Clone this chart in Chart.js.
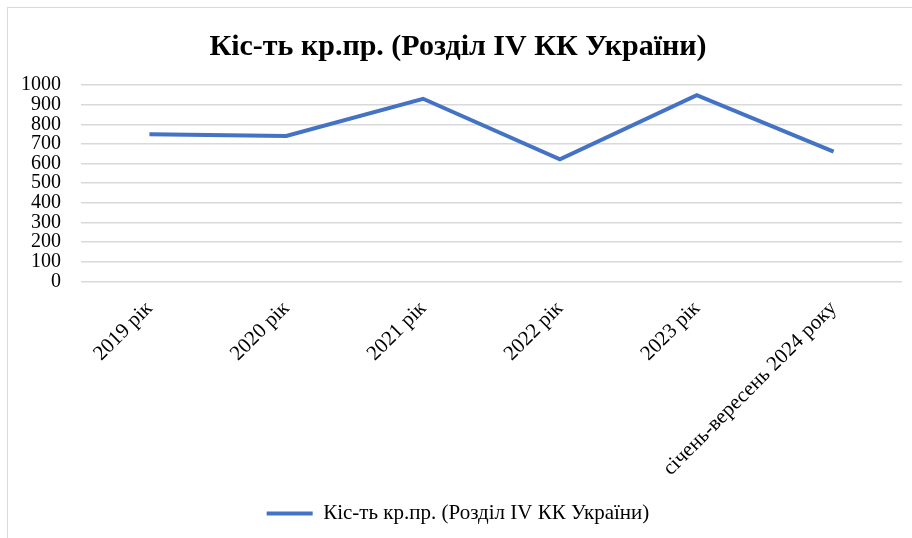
<!DOCTYPE html>
<html>
<head>
<meta charset="utf-8">
<script src="https://cdn.jsdelivr.net/npm/chart.js@4/dist/chart.umd.min.js"></script>
<style>
    html, body { margin: 0; padding: 0; background: #ffffff; }
    #wrap { position: relative; width: 912px; height: 538px; overflow: hidden; }
    #frame {
        position: absolute; left: 7px; top: 7px; width: 960px; height: 600px;
        border: 1px solid #d9d9d9; box-sizing: border-box;
    }
    canvas { position: absolute; left: 0; top: 0; }
</style>
</head>
<body>
<div id="wrap">
    <div id="frame"></div>
    <canvas id="chart" width="912" height="538"></canvas>
</div>
<script>
    // дані з графіка
    const categories = ["2019 рік", "2020 рік", "2021 рік", "2022 рік", "2023 рік", "січень-вересень 2024 року"];
    const crimeCounts = [749, 740, 930, 621, 948, 661];
    const yTicks = [0, 100, 200, 300, 400, 500, 600, 700, 800, 900, 1000];

    const seriesName = "Кіс-ть кр.пр. (Розділ IV КК України)";
    const serif = "'Liberation Serif', 'Times New Roman', serif";

    new Chart(document.getElementById("chart").getContext("2d"), {
        type: "line",
        data: {
            labels: categories,
            datasets: [
                {
                    label: seriesName,
                    data: crimeCounts,
                    borderColor: "#4472c4",
                    backgroundColor: "#4472c4",
                    borderWidth: 4,
                    tension: 0,
                    pointRadius: 0,
                    fill: false
                }
            ]
        },
        options: {
            responsive: false,
            animation: false,
            layout: {
                padding: { left: 14, right: 10, top: 12, bottom: 4 }
            },
            plugins: {
                title: {
                    display: true,
                    text: seriesName,
                    color: "#000000",
                    font: { family: serif, size: 30, weight: "bold" },
                    padding: { top: 17, bottom: 20 }
                },
                legend: {
                    position: "bottom",
                    labels: {
                        usePointStyle: true,
                        pointStyle: "line",
                        pointStyleWidth: 46,
                        color: "#000000",
                        font: { family: serif, size: 21 },
                        padding: 10
                    }
                },
                tooltip: { enabled: false }
            },
            scales: {
                x: {
                    offset: true,
                    grid: { display: false },
                    border: { display: false },
                    afterFit: (axis) => {
                        axis.height += 5;
                    },
                    ticks: {
                        color: "#000000",
                        font: { family: serif, size: 21 },
                        minRotation: 45,
                        maxRotation: 45,
                        autoSkip: false,
                        padding: 7
                    }
                },
                y: {
                    min: 0,
                    max: 1000,
                    afterBuildTicks: (axis) => {
                        axis.ticks = yTicks.map((v) => ({ value: v }));
                    },
                    afterFit: (axis) => {
                        axis.width = 67;
                    },
                    grid: { color: "#d9d9d9", lineWidth: 1.5, drawTicks: false },
                    border: { display: false },
                    ticks: {
                        color: "#000000",
                        font: { family: serif, size: 20 },
                        autoSkip: false,
                        padding: 20,
                        callback: (value) => String(value)
                    }
                }
            }
        }
    });
</script>
</body>
</html>
